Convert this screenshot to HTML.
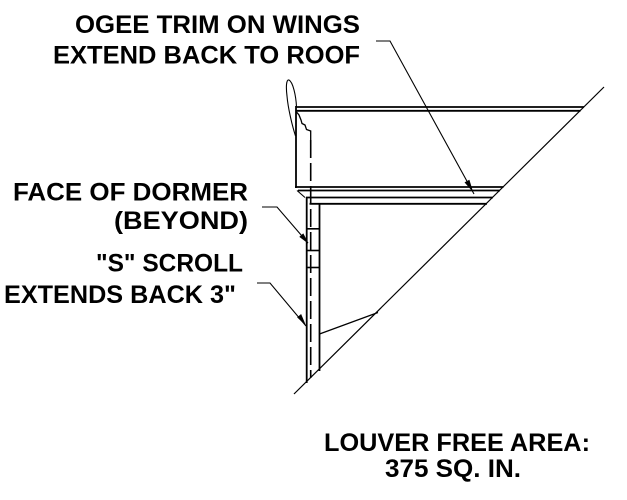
<!DOCTYPE html>
<html>
<head>
<meta charset="utf-8">
<style>
  html, body { margin:0; padding:0; background:#fff; }
  svg { display:block; }
  text { font-family: "Liberation Sans", Arial, sans-serif; font-weight: bold; font-size: 25px; fill:#000; }
</style>
</head>
<body>
<svg width="627" height="500" viewBox="0 0 627 500" xmlns="http://www.w3.org/2000/svg">
  <rect width="627" height="500" fill="#fff"/>

  <!-- Labels -->
  <text x="75" y="33" textLength="285" lengthAdjust="spacingAndGlyphs">OGEE TRIM ON WINGS</text>
  <text x="53" y="63.5" textLength="307" lengthAdjust="spacingAndGlyphs">EXTEND BACK TO ROOF</text>
  <text x="13" y="200.5" textLength="235" lengthAdjust="spacingAndGlyphs">FACE OF DORMER</text>
  <text x="114" y="229" textLength="134" lengthAdjust="spacingAndGlyphs">(BEYOND)</text>
  <text x="96" y="271.5" textLength="147" lengthAdjust="spacingAndGlyphs">"S" SCROLL</text>
  <text x="4" y="303" textLength="232" lengthAdjust="spacingAndGlyphs">EXTENDS BACK 3"</text>
  <text x="324" y="451" textLength="266" lengthAdjust="spacingAndGlyphs">LOUVER FREE AREA:</text>
  <text x="385" y="477" textLength="136" lengthAdjust="spacingAndGlyphs">375 SQ. IN.</text>

  <g stroke="#000" fill="none" stroke-linecap="butt">
    <!-- Main roof diagonal -->
    <line x1="604" y1="87" x2="294" y2="394" stroke-width="1.2"/>

    <!-- Top roof double line -->
    <line x1="295.5" y1="107" x2="584" y2="107" stroke-width="1.8"/>
    <line x1="296.5" y1="110.8" x2="580.5" y2="110.8" stroke-width="1.8"/>

    <!-- Facade vertical -->
    <line x1="296" y1="106" x2="296" y2="188" stroke-width="1.8"/>

    <!-- Bottom double lines of trim -->
    <line x1="295" y1="187" x2="503.5" y2="187" stroke-width="1.8"/>
    <line x1="298" y1="190.5" x2="500" y2="190.5" stroke-width="1.8"/>
    <line x1="297" y1="190.5" x2="305" y2="197.5" stroke-width="1.1"/>
    <line x1="306" y1="197.5" x2="493" y2="197.5" stroke-width="1.8"/>
    <line x1="309.5" y1="203.8" x2="487" y2="203.8" stroke-width="1.8"/>

    <!-- Scroll outline -->
    <path d="M296.5,107 C296,96 293,82 289,80 C286,79 286,88 287,96 C288,108 292,125 295.5,136" stroke-width="1.1"/>
    <!-- Jagged break line -->
    <path d="M296.5,112 L299,115 L301,120 L302,123.5 L305,125 L306.5,129.5 L310.7,131 L310.7,140" stroke-width="1.3"/>

    <!-- Column -->
    <line x1="306.7" y1="197" x2="306.7" y2="383" stroke-width="1.8"/>
    <line x1="319.5" y1="203" x2="319.5" y2="371" stroke-width="1.8"/>
    <line x1="310.7" y1="140" x2="310.7" y2="378" stroke-width="1.6" stroke-dasharray="18 5"/>
    <line x1="306.7" y1="228.8" x2="319.5" y2="228.8" stroke-width="1.6"/>
    <line x1="306.7" y1="250.5" x2="319.5" y2="250.5" stroke-width="1.6"/>
    <line x1="306.7" y1="267.5" x2="319.5" y2="267.5" stroke-width="1.6"/>

    <!-- Louver line -->
    <line x1="319.5" y1="334" x2="378" y2="312.5" stroke-width="1.2"/>

    <!-- Leaders -->
    <polyline points="376,41 390,41 474,194" stroke-width="1.1"/>
    <polyline points="262,207 277,207 308,243" stroke-width="1.1"/>
    <polyline points="257,283 270,283 306,326" stroke-width="1.1"/>
  </g>

  <!-- Arrowheads -->
  <g fill="#000" stroke="#000" stroke-width="0.6">
    <polygon points="472.5,191 469.2,180.2 465.0,182.5"/>
    <polygon points="308,243 303.2,233.8 299.8,236.8"/>
    <polygon points="305.2,324.5 301.0,314.5 297.6,317.4"/>
  </g>
</svg>
</body>
</html>
